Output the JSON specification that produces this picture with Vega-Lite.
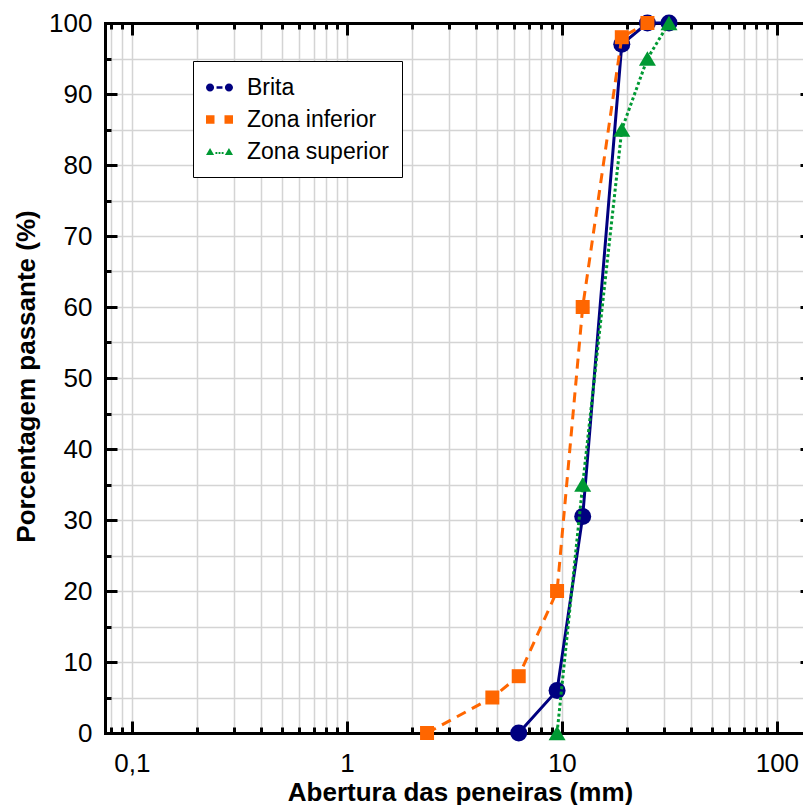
{
  "$schema": "https://vega.github.io/schema/vega-lite/v6.json",
  "width": 698,
  "height": 710,
  "autosize": "none",
  "padding": {"left": 105, "top": 23, "right": 0, "bottom": 72},
  "background": "white",
  "config": {"view": {"stroke": null}, "font": "Liberation Sans"},
  "data": {
    "values": [
      {"Serie": "Brita", "Abertura": 6.3, "Passante": 0},
      {"Serie": "Brita", "Abertura": 9.5, "Passante": 6},
      {"Serie": "Brita", "Abertura": 12.5, "Passante": 30.5},
      {"Serie": "Brita", "Abertura": 19, "Passante": 97},
      {"Serie": "Brita", "Abertura": 25, "Passante": 100},
      {"Serie": "Brita", "Abertura": 31.5, "Passante": 100},
      {"Serie": "Zona inferior", "Abertura": 2.36, "Passante": 0},
      {"Serie": "Zona inferior", "Abertura": 4.75, "Passante": 5},
      {"Serie": "Zona inferior", "Abertura": 6.3, "Passante": 8},
      {"Serie": "Zona inferior", "Abertura": 9.5, "Passante": 20},
      {"Serie": "Zona inferior", "Abertura": 12.5, "Passante": 60},
      {"Serie": "Zona inferior", "Abertura": 19, "Passante": 98},
      {"Serie": "Zona inferior", "Abertura": 25, "Passante": 100},
      {"Serie": "Zona superior", "Abertura": 9.5, "Passante": 0},
      {"Serie": "Zona superior", "Abertura": 12.5, "Passante": 35},
      {"Serie": "Zona superior", "Abertura": 19, "Passante": 85},
      {"Serie": "Zona superior", "Abertura": 25, "Passante": 95},
      {"Serie": "Zona superior", "Abertura": 31.5, "Passante": 100}
    ]
  },
  "resolve": {"axis": {"x": "independent", "y": "independent"}},
  "layer": [
    {
      "transform": [{"filter": "datum.Serie == 'Brita'"}],
      "mark": {"type": "line", "strokeWidth": 3, "point": {"shape": "circle", "size": 289, "filled": true, "opacity": 1}},
      "encoding": {
        "x": {
          "field": "Abertura", "type": "quantitative",
          "scale": {"type": "log", "domain": [0.075, 132.3], "nice": false},
          "axis": {
            "orient": "bottom",
            "values": [0.08, 0.09, 0.1, 0.2, 0.3, 0.4, 0.5, 0.6, 0.7, 0.8, 0.9, 1, 2, 3, 4, 5, 6, 7, 8, 9, 10, 20, 30, 40, 50, 60, 70, 80, 90, 100],
            "title": "Abertura das peneiras (mm)",
            "titleFont": "Liberation Sans", "titleFontSize": 26, "titleFontWeight": "bold", "titleColor": "black",
            "titleX": 355, "titleY": 67, "titleBaseline": "alphabetic", "titleAlign": "center",
            "labelExpr": "datum.value == 0.1 ? '0,1' : (datum.value == 1 ? '1' : (datum.value == 10 ? '10' : (datum.value == 100 ? '100' : '')))",
            "labelFont": "Liberation Sans", "labelFontSize": 26, "labelColor": "black",
            "labelPadding": 29, "labelOverlap": false, "labelFlush": false, "labelBound": false,
            "tickSize": {"condition": {"test": "datum.value == 0.1 || datum.value == 1 || datum.value == 10 || datum.value == 100", "value": -12}, "value": -6},
            "tickWidth": 3, "tickColor": "black",
            "domainColor": "black", "domainWidth": 3, "domainCap": "square",
            "grid": true, "gridColor": "#d4d4d4", "gridWidth": 1.5
          }
        },
        "y": {
          "field": "Passante", "type": "quantitative",
          "scale": {"domain": [0, 100], "nice": false},
          "axis": {
            "orient": "left",
            "values": [0, 5, 10, 15, 20, 25, 30, 35, 40, 45, 50, 55, 60, 65, 70, 75, 80, 85, 90, 95, 100],
            "title": "Porcentagem passante (%)",
            "titleFont": "Liberation Sans", "titleFontSize": 26, "titleFontWeight": "bold", "titleColor": "black",
            "titleX": -71, "titleY": 353, "titleBaseline": "alphabetic", "titleAlign": "center", "titleAngle": 270,
            "labelExpr": "datum.value % 10 == 0 ? datum.label : ''",
            "labelFont": "Liberation Sans", "labelFontSize": 26, "labelColor": "black",
            "labelPadding": 25, "labelOverlap": false, "labelFlush": false, "labelBound": false,
            "tickSize": {"condition": {"test": "datum.value % 10 == 0", "value": -12}, "value": -6},
            "tickWidth": 3, "tickColor": "black",
            "domainColor": "black", "domainWidth": 3, "domainCap": "square",
            "grid": true, "gridColor": "#d4d4d4", "gridWidth": 1.5,
            "gridOpacity": {"condition": {"test": "datum.value == 0 || datum.value == 100", "value": 0}, "value": 1}
          }
        },
        "color": {
          "field": "Serie", "type": "nominal",
          "scale": {"domain": ["Brita", "Zona inferior", "Zona superior"], "range": ["#000080", "#FF6600", "#009933"]},
          "legend": {
            "title": null,
            "orient": "none", "legendX": 88, "legendY": 38,
            "fillColor": "white", "strokeColor": "black", "padding": 13,
            "rowPadding": 6,
            "symbolSize": 729,
            "symbolType": {"expr": "datum.value == 'Brita' ? 'M-1,0A0.3,0.3,0,1,0,-0.4,0A0.3,0.3,0,1,0,-1,0ZM0.4,0A0.3,0.3,0,1,0,1,0A0.3,0.3,0,1,0,0.4,0ZM-0.22,-0.1H0.22V0.1H-0.22Z' : (datum.value == 'Zona inferior' ? 'M-1,-0.31H-0.37V0.31H-1ZM0.37,-0.31H1V0.31H0.37Z' : 'M-1,0.26L-0.7,-0.26L-0.4,0.26ZM0.4,0.26L0.7,-0.26L1,0.26ZM-0.3,0.04H-0.16V0.18H-0.3ZM-0.07,0.04H0.07V0.18H-0.07ZM0.16,0.04H0.3V0.18H0.16Z')"},
            "symbolFillColor": {"expr": "scale('color', datum.value)"},
            "symbolStrokeWidth": 0,
            "symbolOpacity": 1,
            "labelFont": "Liberation Sans", "labelFontSize": 23, "labelColor": "black",
            "labelOffset": 14, "labelLimit": 300
          }
        }
      }
    },
    {
      "transform": [{"filter": "datum.Serie == 'Zona inferior'"}],
      "mark": {"type": "line", "strokeWidth": 3, "strokeDash": [10, 7], "point": {"shape": "square", "size": 196, "filled": true, "opacity": 1}},
      "encoding": {
        "x": {
          "field": "Abertura", "type": "quantitative",
          "axis": {
            "orient": "top",
            "values": [0.08, 0.09, 0.1, 0.2, 0.3, 0.4, 0.5, 0.6, 0.7, 0.8, 0.9, 1, 2, 3, 4, 5, 6, 7, 8, 9, 10, 20, 30, 40, 50, 60, 70, 80, 90, 100],
            "title": null, "labels": false, "grid": false,
            "tickSize": {"condition": {"test": "datum.value == 0.1 || datum.value == 1 || datum.value == 10 || datum.value == 100", "value": -12}, "value": -6},
            "tickWidth": 3, "tickColor": "black",
            "domainColor": "black", "domainWidth": 3, "domainCap": "square"
          }
        },
        "y": {
          "field": "Passante", "type": "quantitative",
          "axis": {
            "orient": "right", "offset": 9,
            "values": [0, 5, 10, 15, 20, 25, 30, 35, 40, 45, 50, 55, 60, 65, 70, 75, 80, 85, 90, 95, 100],
            "title": null, "labels": false, "grid": false,
            "tickSize": {"condition": {"test": "datum.value % 10 == 0", "value": -12}, "value": -6},
            "tickWidth": 3, "tickColor": "black",
            "domainColor": "black", "domainWidth": 3
          }
        },
        "color": {"field": "Serie", "type": "nominal"}
      }
    },
    {
      "transform": [{"filter": "datum.Serie == 'Zona superior'"}],
      "mark": {"type": "line", "strokeWidth": 3, "strokeDash": [3, 2.5], "point": {"shape": "triangle-up", "size": 289, "filled": true, "opacity": 1}},
      "encoding": {
        "x": {"field": "Abertura", "type": "quantitative", "axis": null},
        "y": {"field": "Passante", "type": "quantitative", "axis": null},
        "color": {"field": "Serie", "type": "nominal"}
      }
    }
  ]
}
